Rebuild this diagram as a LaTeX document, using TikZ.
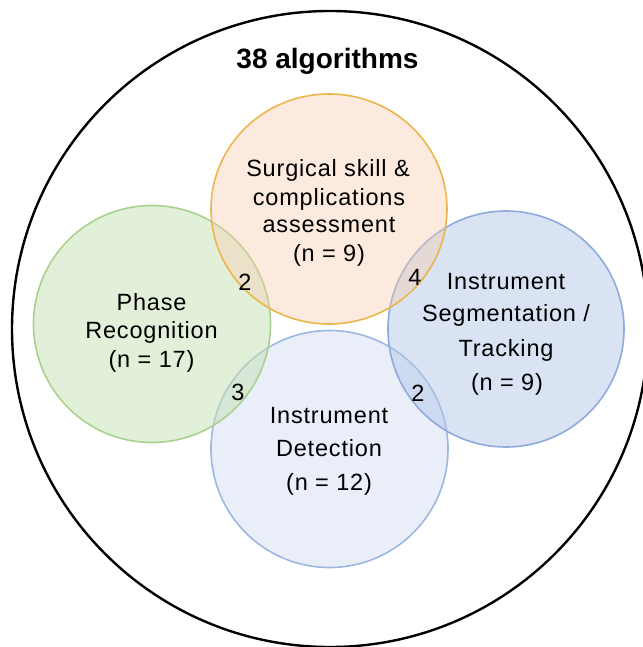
\documentclass[tikz,border=0pt]{standalone}
\usepackage{fontspec}
\setmainfont{Liberation Sans}[LetterSpace=3.5]
\newfontfamily\titlefont{Liberation Sans}[LetterSpace=0]
\begin{document}
\begin{tikzpicture}[x=1pt,y=-1pt,
  lbl/.style={anchor=base,inner sep=0pt,font=\fontsize{23.5}{28}\selectfont},
  num/.style={anchor=center,inner sep=0pt,font=\fontsize{23.5}{28}\selectfont},
  setc/.style={line width=1.6pt}]
\useasboundingbox (0,0) rectangle (642,647);
\definecolor{obord}{HTML}{EBB64A}
\definecolor{ofill}{HTML}{F8CBAD}
\definecolor{gbord}{HTML}{A9D18E}
\definecolor{gfill}{HTML}{C5E0B4}
\definecolor{rbord}{HTML}{8FAADC}
\definecolor{rfill}{HTML}{B4C7E7}
\definecolor{dbord}{HTML}{9DB8E0}
\definecolor{dfill}{HTML}{DAE3F3}
% outer set
\draw[line width=2.4pt] (330,329) circle (318);
\node[anchor=base,inner sep=0pt,font=\titlefont\bfseries\fontsize{28}{32}\selectfont] (title) at (327.5,69) {38 algorithms};
% sets
\draw[setc,draw=dbord,fill=dfill,fill opacity=0.6] (329.5,449) circle (118.5);
\draw[setc,draw=rbord,fill=rfill,fill opacity=0.5] (506,329) circle (118);
\draw[setc,draw=gbord,fill=gfill,fill opacity=0.5] (152,324) circle (118.5);
\draw[setc,draw=obord,fill=ofill,fill opacity=0.4] (329,209) ellipse (118 and 115);
% labels
\node[lbl] (o1) at (328,176.7) {Surgical skill \&};
\node[lbl] (o2) at (329,205) {complications};
\node[lbl] (o3) at (329,232.7) {assessment};
\node[lbl] (o4) at (329,261.7) {(n = 9)};
\node[lbl] (g1) at (151.5,310) {Phase};
\node[lbl] (g2) at (151.5,338) {Recognition};
\node[lbl] (g3) at (151.5,367) {(n = 17)};
\node[lbl] (r1) at (506,289) {Instrument};
\node[lbl] (r2) at (506,321.7) {Segmentation /};
\node[lbl] (r3) at (506,356) {Tracking};
\node[lbl] (r4) at (507,390.7) {(n = 9)};
\node[lbl] (d1) at (329,423) {Instrument};
\node[lbl] (d2) at (329,456.7) {Detection};
\node[lbl] (d3) at (329,490.7) {(n = 12)};
% intersections
\node[num] (og) at (245,282) {2};
\node[num] (or) at (415,277) {4};
\node[num] (gd) at (238,392) {3};
\node[num] (rd) at (418,393) {2};
\end{tikzpicture}
\end{document}
